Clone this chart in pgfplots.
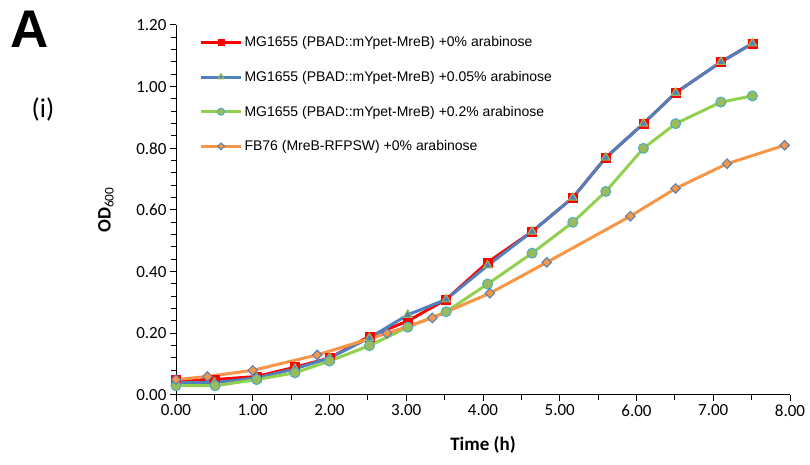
\documentclass[border=0pt]{standalone}
\usepackage{pgfplots}
\pgfplotsset{compat=1.18}
\usepackage{fontspec}
\setmainfont{Liberation Sans}
\newfontfamily\carlito{Carlito}
\definecolor{cRed}{HTML}{FF0000}
\definecolor{cBlue}{HTML}{4F81BD}
\definecolor{cGreen}{HTML}{92D050}
\definecolor{cOlive}{HTML}{9BBB59}
\definecolor{cAqua}{HTML}{4BACC6}
\definecolor{cOrange}{HTML}{F79646}
\begin{document}
\begin{tikzpicture}
\path[use as bounding box] (0pt,0pt) rectangle (810pt,465pt);
\node[font=\bfseries\fontsize{53}{53}\selectfont] at (30pt,436pt) {A};
\node[font=\carlito\fontsize{27}{27}\selectfont] at (43pt,355pt) {(i)};
\begin{axis}[
  at={(176pt,70pt)}, anchor=south west,
  width=614pt, height=370pt, scale only axis,
  xmin=0, xmax=8, ymin=0, ymax=1.2,
  clip=false,
  axis x line*=bottom, axis y line*=left,
  axis line style={line width=1pt, black, -},
  xtick={0,1,...,8}, ytick={0,0.2,...,1.2},
  minor x tick num=1, minor y tick num=4,
  tick align=outside,
  major tick length=6pt, minor tick length=5pt,
  every tick/.style={black, line width=1pt},
  tick label style={font=\carlito\fontsize{17}{17}\selectfont},
  /pgf/number format/.cd, fixed, fixed zerofill, precision=2, assume math mode=true,
  /pgfplots/.cd,
  xlabel={\carlito\bfseries Time (h)},
  ylabel={\carlito\bfseries OD\textsubscript{\mdseries 600}},
  xlabel style={font=\fontsize{19}{19}\selectfont, at={(axis description cs:0.5,-0.135)}, anchor=center},
  ylabel style={font=\fontsize{19}{19}\selectfont, at={(axis description cs:-0.114,0.5)}, anchor=center, rotate=0},
  legend cell align=left,
  legend style={draw=none, fill=none, at={(axis description cs:0.038,0.98)}, anchor=north west,
    font=\fontsize{14}{16}\selectfont, row sep=19pt, inner xsep=0pt,
    /tikz/every even column/.append style={column sep=1pt}},
  legend image code/.code={\draw[mark repeat=2,mark phase=2,#1,every mark/.append style={scale=0.7}] plot coordinates {(0pt,0pt) (20pt,0pt) (40pt,0pt)};},
]
\addplot[cRed, line width=3pt, mark=square*, mark size=4.5pt, mark options={fill=cRed, draw=cRed, line width=0.5pt}]
 coordinates {(0,0.05)(0.5,0.05)(1.05,0.06)(1.55,0.09)(2.0,0.12)(2.52,0.19)(3.02,0.24)(3.52,0.31)(4.06,0.43)(4.64,0.53)(5.17,0.64)(5.6,0.77)(6.09,0.88)(6.51,0.98)(7.1,1.08)(7.51,1.14)};
\addlegendentry{MG1655 (PBAD::mYpet-MreB) +0\% arabinose}
\addplot[cBlue, line width=3pt, mark=triangle*, mark size=5pt, mark options={fill=cBlue, draw=cOlive, line width=1pt}]
 coordinates {(0,0.04)(0.5,0.04)(1.05,0.055)(1.55,0.085)(2.0,0.12)(2.52,0.185)(3.02,0.26)(3.52,0.31)(4.06,0.42)(4.64,0.53)(5.17,0.64)(5.6,0.77)(6.09,0.88)(6.51,0.98)(7.1,1.08)(7.51,1.14)};
\addlegendentry{MG1655 (PBAD::mYpet-MreB) +0.05\% arabinose}
\addplot[cGreen, line width=3pt, mark=*, mark size=5pt, mark options={fill=cOlive, draw=cAqua, line width=1pt}]
 coordinates {(0,0.03)(0.51,0.03)(1.05,0.05)(1.55,0.072)(2.0,0.11)(2.52,0.16)(3.02,0.22)(3.52,0.27)(4.06,0.36)(4.64,0.46)(5.17,0.56)(5.6,0.66)(6.09,0.8)(6.51,0.88)(7.1,0.95)(7.51,0.97)};
\addlegendentry{MG1655 (PBAD::mYpet-MreB) +0.2\% arabinose}
\addplot[cOrange, line width=3pt, mark=square*, mark size=3.4pt, mark options={rotate=45, fill=cOrange, draw=cBlue, line width=1pt}]
 coordinates {(0,0.05)(0.41,0.06)(1.0,0.08)(1.84,0.13)(2.75,0.2)(3.34,0.25)(4.09,0.33)(4.83,0.43)(5.92,0.58)(6.51,0.67)(7.18,0.75)(7.93,0.81)};
\addlegendentry{FB76 (MreB-RFPSW) +0\% arabinose}
\end{axis}
\end{tikzpicture}
\end{document}
